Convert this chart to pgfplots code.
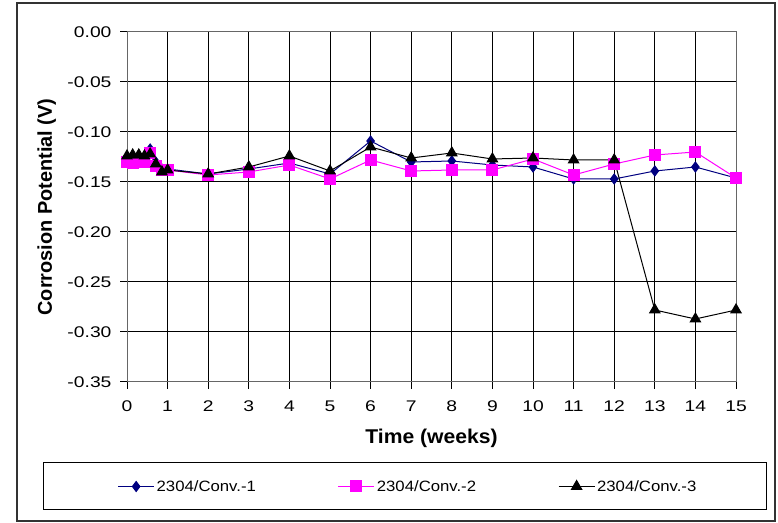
\documentclass[border=0pt]{standalone}
\usepackage{pgfplots}
\pgfplotsset{compat=1.18}
\usepackage{fontspec}
\setmainfont{Liberation Sans}
\newfontfamily\tickfont[FakeStretch=1.25]{Liberation Sans}
\newfontfamily\legfont[FakeStretch=1.12]{Liberation Sans}
\newfontfamily\xlabfont[FakeStretch=1.06]{Liberation Sans}
\definecolor{navyc}{HTML}{000080}
\definecolor{magc}{HTML}{FF00FF}
\begin{document}
\begin{tikzpicture}[x=1bp,y=1bp]
\useasboundingbox (0,0) rectangle (778,523);
\draw[line width=1.2bp, draw=black!80] (17,2) rectangle (775,520);
\draw[line width=1bp] (43,13) rectangle (766,60);
\begin{axis}[
  at={(127bp,141bp)}, anchor=south west,
  scale only axis, width=609bp, height=350bp,
  xmin=0, xmax=15, ymin=-0.35, ymax=0,
  xtick={0,1,...,15}, ytick={-0.35,-0.30,...,0.001},
  grid=major, major grid style={black, line width=1bp},
  axis line style={black!60, line width=1bp},
  tick style={black, line width=1bp},
  tick align=outside, major tick length=7bp,
  xtick pos=bottom, ytick pos=left,
  /pgf/number format/assume math mode=true,
  yticklabel style={xshift=-5bp, /pgf/number format/fixed, /pgf/number format/fixed zerofill, /pgf/number format/precision=2},
  ticklabel style={font=\tickfont\fontsize{15.5}{17}\selectfont},
  xticklabel style={yshift=-8bp},
  xlabel={\xlabfont\bfseries Time (weeks)},
  ylabel={\textbf{Corrosion Potential (V)}},
  label style={font=\fontsize{20}{22}\selectfont},
  xlabel style={at={(axis description cs:0.5,-0.162)}, anchor=center},
  ylabel style={at={(axis description cs:-0.132,0.5)}, anchor=center},
  legend columns=3,
  legend style={at={(408bp-127bp,36.5bp-141bp)}, anchor=center, draw=none, fill=none,
    font=\legfont\fontsize{15}{17}\selectfont, /tikz/every even column/.append style={column sep=80bp}},
  legend image code/.code={\draw[#1] (0bp,0bp) -- (18bp,0bp) plot coordinates {(18bp,0bp)} -- (36bp,0bp);},
  clip=false,
]
\addplot[color=navyc, line width=1bp, mark=diamond*, mark size=5bp] coordinates {
(0,-0.128) (0.14,-0.129) (0.29,-0.129) (0.43,-0.127) (0.57,-0.117) (0.71,-0.130) (0.86,-0.137) (1,-0.137)
(2,-0.142) (3,-0.137) (4,-0.131) (5,-0.142) (6,-0.109) (7,-0.130) (8,-0.129) (9,-0.133) (10,-0.135)
(11,-0.147) (12,-0.147) (13,-0.139) (14,-0.135) (15,-0.146)};
\addlegendentry{2304/Conv.-1}
\addplot[color=magc, line width=1bp, mark=square*, mark size=5.5bp] coordinates {
(0,-0.130) (0.14,-0.131) (0.29,-0.130) (0.43,-0.130) (0.57,-0.121) (0.71,-0.134) (0.86,-0.138) (1,-0.138)
(2,-0.143) (3,-0.140) (4,-0.133) (5,-0.147) (6,-0.128) (7,-0.139) (8,-0.138) (9,-0.138) (10,-0.127)
(11,-0.143) (12,-0.132) (13,-0.123) (14,-0.120) (15,-0.146)};
\addlegendentry{2304/Conv.-2}
\addplot[color=black, line width=1bp, mark=triangle*, mark size=6bp] coordinates {
(0,-0.124) (0.14,-0.123) (0.29,-0.123) (0.43,-0.124) (0.57,-0.122) (0.71,-0.132) (0.86,-0.140) (1,-0.138)
(2,-0.142) (3,-0.135) (4,-0.124) (5,-0.139) (6,-0.115) (7,-0.126) (8,-0.121) (9,-0.127) (10,-0.126)
(11,-0.128) (12,-0.128) (13,-0.278) (14,-0.287) (15,-0.278)};
\addlegendentry{2304/Conv.-3}
\end{axis}
\end{tikzpicture}
\end{document}
